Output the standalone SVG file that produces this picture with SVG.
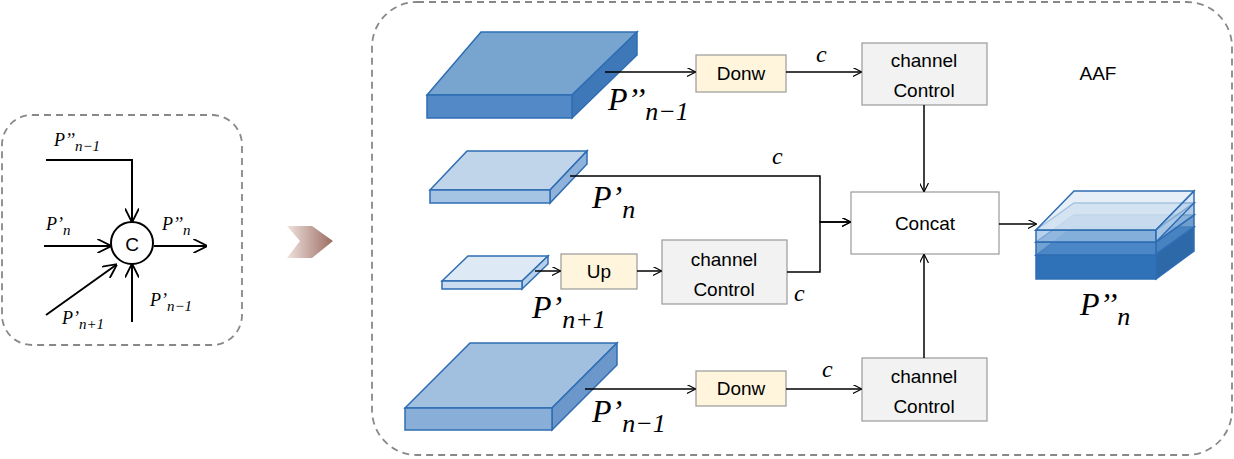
<svg xmlns="http://www.w3.org/2000/svg" width="1234" height="459" viewBox="0 0 1234 459">
<defs>
<marker id="ah" viewBox="0 0 10 10" refX="9" refY="5" markerWidth="9" markerHeight="9" markerUnits="userSpaceOnUse" orient="auto"><path d="M0,0 L10,5 L0,10" fill="none" stroke="#000" stroke-width="1.3"/></marker>
<marker id="ah2" viewBox="0 0 10 10" refX="9" refY="5" markerWidth="14" markerHeight="14" markerUnits="userSpaceOnUse" orient="auto"><path d="M0,0 L10,5 L0,10" fill="none" stroke="#000" stroke-width="1.3"/></marker>
<linearGradient id="g" x1="0" x2="1"><stop offset="0" stop-color="#efe2de"/><stop offset="1" stop-color="#9c6c62"/></linearGradient>
<style>
.c{stroke:#000;stroke-width:1.5;fill:none;marker-end:url(#ah)}
.l{stroke:#000;stroke-width:2;fill:none;marker-end:url(#ah2)}
.box{stroke:#999;stroke-width:1.2}
.t{font-family:"Liberation Sans",Arial,sans-serif;font-size:19px;text-anchor:middle;fill:#000}
.m{font-family:"Liberation Serif","DejaVu Serif",serif;font-style:italic;fill:#000}
.s{stroke:#2e6db3;stroke-width:1.5}
</style>
</defs>
<rect x="2" y="115" width="240" height="230" rx="30" fill="none" stroke="#888" stroke-width="1.8" stroke-dasharray="7,5"/>
<rect x="372" y="2" width="860" height="453" rx="45" fill="none" stroke="#888" stroke-width="1.8" stroke-dasharray="7,5"/>
<path d="M287,226 L312,226 L333,241 L312,258 L287,258 L300,241 Z" fill="url(#g)"/>
<g id="left">
<circle cx="132" cy="243" r="21" fill="#fff" stroke="#000" stroke-width="2"/>
<text x="132" y="251" class="t" font-size="22">C</text>
<polyline class="l" points="46,160 132,160 132,221"/>
<line class="l" x1="44" y1="246" x2="110" y2="246"/>
<line class="l" x1="154" y1="246" x2="206" y2="246"/>
<line class="l" x1="46" y1="315" x2="116" y2="265"/>
<line class="l" x1="132" y1="322" x2="132" y2="265"/>
<text class="m" x="54" y="146" font-size="18">P’’<tspan font-size="15" dy="5">n−1</tspan></text>
<text class="m" x="46" y="230" font-size="18">P’<tspan font-size="15" dy="5">n</tspan></text>
<text class="m" x="162" y="230" font-size="18">P’’<tspan font-size="15" dy="5">n</tspan></text>
<text class="m" x="62" y="324" font-size="18">P’<tspan font-size="15" dy="5">n+1</tspan></text>
<text class="m" x="150" y="306" font-size="18">P’<tspan font-size="15" dy="5">n−1</tspan></text>
</g>
<g id="slab1"><path class="s" d="M427,95 L481,32 L637,32 L572,95 Z" fill="#78a4d0"/><path class="s" d="M572,95 L637,32 L637,55 L572,118 Z" fill="#3f78b9"/><rect class="s" x="427" y="95" width="145" height="23" fill="#5389c6"/></g>
<g id="slab2"><path class="s" d="M430,190 L467,151 L587,151 L550,190 Z" fill="#c0d5ea"/><path class="s" d="M550,190 L587,151 L587,164 L550,203 Z" fill="#8fb2da"/><rect class="s" x="430" y="190" width="120" height="13" fill="#a5c3e3"/></g>
<g id="slab3"><path class="s" d="M442,281 L468,256 L548,256 L522,281 Z" fill="#dde9f5"/><path class="s" d="M522,281 L548,256 L548,264 L522,289 Z" fill="#b8cfea"/><rect class="s" x="442" y="281" width="80" height="8" fill="#c9dcf0"/></g>
<g id="slab4"><path class="s" d="M405,408 L470,343 L617,343 L552,408 Z" fill="#a1bfdf"/><path class="s" d="M552,408 L617,343 L617,365 L552,430 Z" fill="#6b97cb"/><rect class="s" x="405" y="408" width="147" height="22" fill="#89aed8"/></g>
<g id="out">
<path class="s" d="M1036,255 L1074,227 L1194,227 L1156,255 Z" fill="#3d7bbd"/><path class="s" d="M1156,255 L1194,227 L1194,251 L1156,279 Z" fill="#2d68a8"/><rect class="s" x="1036" y="255" width="120" height="24" fill="#2f72b8"/>
<path class="s" d="M1036,242 L1074,215 L1194,215 L1156,242 Z" fill="#5f95cc" fill-opacity="0.8"/><path class="s" d="M1156,242 L1194,215 L1194,227 L1156,254 Z" fill="#4a84c2" fill-opacity="0.8"/><rect class="s" x="1036" y="242" width="120" height="13" fill="#4f8ac8" fill-opacity="0.8"/>
<path class="s" d="M1036,230 L1074,203 L1194,203 L1156,230 Z" fill="#a6c4e4" fill-opacity="0.7"/><path class="s" d="M1156,230 L1194,203 L1194,215 L1156,242 Z" fill="#8fb4dc" fill-opacity="0.7"/><rect class="s" x="1036" y="230" width="120" height="12" fill="#98bce2" fill-opacity="0.7"/>
<path class="s" d="M1036,230 L1074,191 L1194,191 L1156,230 Z" fill="#dce8f4" fill-opacity="0.7"/><path class="s" d="M1156,230 L1194,191 L1194,203 L1156,242 Z" fill="#c2d7ec" fill-opacity="0.6"/>
</g>
<g id="n-donw1"><rect class="box" x="696" y="55" width="90" height="37" fill="#fff5dc"/><text class="t" x="741" y="80">Donw</text></g>
<g id="n-cc1"><rect class="box" x="862" y="43" width="125" height="62" fill="#f2f2f2"/><text class="t" x="924" y="67">channel</text><text class="t" x="924" y="97">Control</text></g>
<g id="n-concat"><rect class="box" x="851" y="192" width="148" height="62" fill="#fff"/><text class="t" x="925" y="230">Concat</text></g>
<g id="n-up"><rect class="box" x="561" y="254" width="76" height="35" fill="#fff5dc"/><text class="t" x="599" y="278">Up</text></g>
<g id="n-cc2"><rect class="box" x="662" y="240" width="125" height="64" fill="#f2f2f2"/><text class="t" x="724" y="266">channel</text><text class="t" x="724" y="296">Control</text></g>
<g id="n-donw2"><rect class="box" x="696" y="371" width="90" height="35" fill="#fff5dc"/><text class="t" x="741" y="395">Donw</text></g>
<g id="n-cc4"><rect class="box" x="862" y="358" width="125" height="63" fill="#f2f2f2"/><text class="t" x="924" y="383">channel</text><text class="t" x="924" y="413">Control</text></g>
<g id="connectors">
<line class="c" x1="605" y1="72" x2="695" y2="72"/>
<line class="c" x1="786" y1="72" x2="861" y2="72"/>
<line class="c" x1="924" y1="105" x2="924" y2="191"/>
<polyline class="c" points="570,176 820,176 820,222 850,222"/>
<polyline class="c" points="787,272 820,272 820,222 850,222"/>
<line class="c" x1="535" y1="271" x2="560" y2="271"/>
<line class="c" x1="637" y1="271" x2="661" y2="271"/>
<line class="c" x1="585" y1="389" x2="695" y2="389"/>
<line class="c" x1="786" y1="389" x2="861" y2="389"/>
<line class="c" x1="924" y1="358" x2="924" y2="255"/>
<line class="c" x1="999" y1="224" x2="1036" y2="224"/>
</g>
<g id="labels">
<text class="m" x="816" y="62" font-size="24">c</text>
<text class="m" x="772" y="164" font-size="24">c</text>
<text class="m" x="794" y="301" font-size="24">c</text>
<text class="m" x="822" y="377" font-size="24">c</text>
<text class="m" x="608" y="110" font-size="32">P’’<tspan font-size="26" dy="10">n−1</tspan></text>
<text class="m" x="592" y="208" font-size="32">P’<tspan font-size="26" dy="10">n</tspan></text>
<text class="m" x="532" y="318" font-size="32">P’<tspan font-size="26" dy="10">n+1</tspan></text>
<text class="m" x="592" y="422" font-size="32">P’<tspan font-size="26" dy="10">n−1</tspan></text>
<text class="m" x="1080" y="315" font-size="32">P’’<tspan font-size="26" dy="10">n</tspan></text>
<text class="t" x="1098" y="80" font-size="26">AAF</text>
</g>
</svg>
